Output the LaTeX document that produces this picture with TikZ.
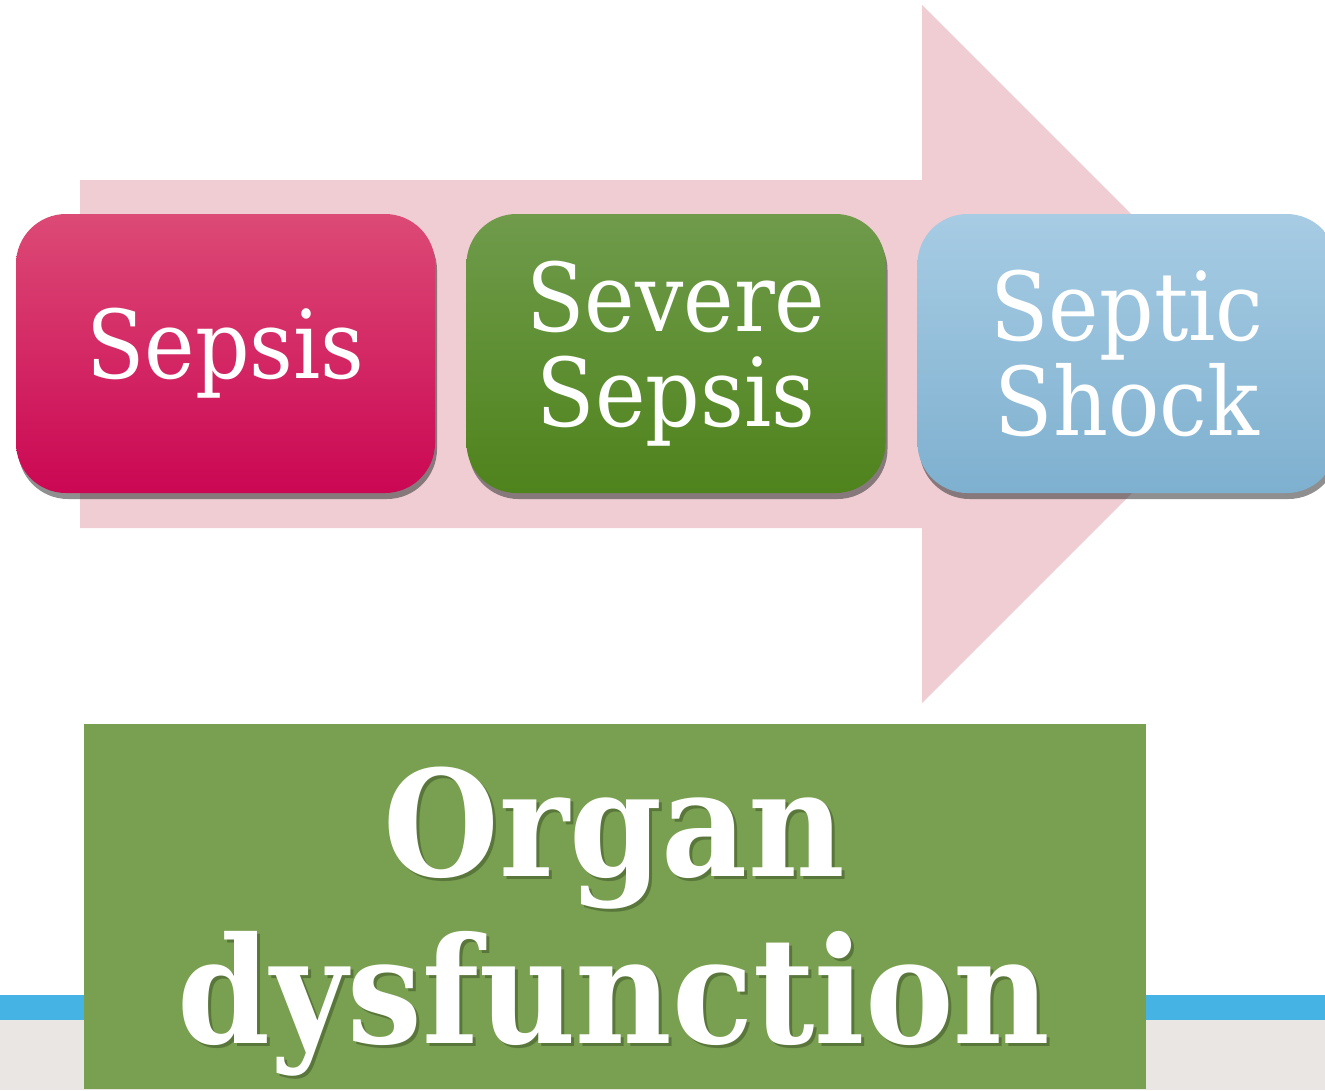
\documentclass[tikz,border=0pt]{standalone}
\usepackage{fontspec}
\setmainfont{DejaVu Serif Condensed}
\usetikzlibrary{shadows}

\definecolor{arrowpink}{HTML}{EFCDD3}
\definecolor{sepsistop}{HTML}{DC4A76}
\definecolor{sepsisbot}{HTML}{CB0753}
\definecolor{severetop}{HTML}{6F9B4B}
\definecolor{severebot}{HTML}{4F831C}
\definecolor{shocktop}{HTML}{A7CCE4}
\definecolor{shockbot}{HTML}{7EB0CF}
\definecolor{organgreen}{HTML}{799F50}
\definecolor{lineblue}{HTML}{45B4E4}
\definecolor{floorgrey}{HTML}{EAE6E3}

\begin{document}
\begin{tikzpicture}[
				stage/.style={
					rectangle,
					rounded corners=0.5cm,
					minimum width=4.19cm,
					minimum height=2.79cm,
					align=center,
					text=white,
					font=\fontsize{27}{27}\selectfont,
					drop shadow={shadow xshift=0.02cm,shadow yshift=-0.06cm,opacity=0.55,fill=black!80}
				},
				title/.style={
					align=center,
					text=white,
					font=\fontsize{42}{47.5}\selectfont\bfseries
				}
				]
				\useasboundingbox (0,0) rectangle (13.25,10.9);
				
				% background band
				\fill[floorgrey] (0,0) rectangle (13.25,0.70);
				\fill[lineblue] (0,0.70) rectangle (13.25,0.95);
				
				% big arrow
				\fill[arrowpink] (0.80,5.62) -- (0.80,9.10) -- (9.22,9.10) -- (9.22,10.85)
				-- (12.71,7.36) -- (9.22,3.87) -- (9.22,5.62) -- cycle;
				
				\node[stage,top color=sepsistop,bottom color=sepsisbot] (sepsis) at (2.255,7.365) {Sepsis};
				\node[stage,top color=severetop,bottom color=severebot] (severe) at (6.76,7.365) {Severe\\Sepsis};
				\node[stage,top color=shocktop,bottom color=shockbot] (shock) at (11.27,7.365) {Septic\\Shock};
				
				\node[fill=organgreen,minimum width=10.62cm,minimum height=3.65cm,anchor=south west] (organbox) at (0.83,0) {};
				\node[title,text=black,opacity=0.25] (organshadow) at (6.17,1.65) {Organ\\dysfunction};
				\node[title] (organ) at (6.14,1.68) {Organ\\dysfunction};
			\end{tikzpicture}
\end{document}
